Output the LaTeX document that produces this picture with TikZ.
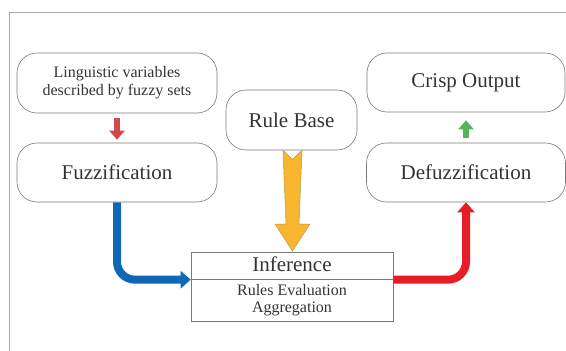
\documentclass[tikz,border=0pt]{standalone}
\usepackage{fontspec}
\setmainfont{Liberation Serif}
\usetikzlibrary{arrows.meta,shapes.multipart,calc}

\definecolor{boxgray}{HTML}{7A7A7A}
\definecolor{framegray}{HTML}{A8A8A8}
\definecolor{txtgray}{HTML}{333333}
\definecolor{flowblue}{HTML}{0F67B8}
\definecolor{flowred}{HTML}{E81C24}
\definecolor{ruleyellow}{HTML}{F8B52E}
\definecolor{ruleedge}{HTML}{B89A48}
\definecolor{downred}{HTML}{D6474B}
\definecolor{upgreen}{HTML}{52B55C}

\begin{document}
\begin{tikzpicture}[x=1pt, y=-1pt,
  main/.style = {draw=boxgray, line width=0.6pt, rectangle, rounded corners=20pt, text=txtgray, align=center, font=\fontsize{21}{23}\selectfont},
  flow/.style = {line width=8pt, rounded corners=18pt, -{Triangle[width=17pt,length=10pt]}},
  small/.style = {line width=6pt, -{Triangle[width=15pt,length=9pt]}}]
\useasboundingbox (0,0) rectangle (566,351);
\draw[framegray, line width=0.8pt] (9,351) |- (566,12);

\node[main, minimum width=200pt, minimum height=60pt, font=\fontsize{16}{18}\selectfont] (ling) at (117,83) {Linguistic variables\\described by fuzzy sets};
\node[main, minimum width=200pt, minimum height=59pt] (fuzz) at (117,172.5) {Fuzzification};
\node[main, minimum width=131pt, minimum height=60pt] (rule) at (291.5,120) {Rule Base};
\node[main, minimum width=198pt, minimum height=59pt] (crisp) at (466,82.5) {Crisp Output};
\node[main, minimum width=199pt, minimum height=59pt] (defuzz) at (466,172.5) {Defuzzification};
\node[draw=boxgray, line width=0.6pt, rectangle split, rectangle split parts=2, text=txtgray, align=center,
  font=\fontsize{16}{17}\selectfont, minimum width=202pt, inner ysep=4.5pt, anchor=north] (inf) at (292,252)
  {{\fontsize{21}{23}\selectfont\rule[-3pt]{0pt}{17pt}Inference}
   \nodepart{two}Rules Evaluation\\Aggregation};

% small arrows
\draw[small, downred] ([yshift=-5pt]ling.south) -- ([yshift=3pt]fuzz.north);
\draw[small, upgreen] ([yshift=5pt]defuzz.north) -- ([yshift=-8pt]crisp.south);

% rule base into inference
\filldraw[fill=ruleyellow, draw=ruleedge, line width=0.5pt]
  ($(rule.south)+(-8.5,0)$) -- ($(rule.south)+(1,9)$) -- ($(rule.south)+(10.5,0)$)
  -- ($(inf.north)+(7,-28)$) -- ($(inf.north)+(18,-28)$) -- ($(inf.north)+(0.5,-1)$)
  -- ($(inf.north)+(-17,-28)$) -- ($(inf.north)+(-6,-28)$) -- cycle;

\draw[flow, flowblue] (fuzz.south) |- (inf.text split west);
\draw[flow, flowred] (inf.text split east) -| (defuzz.south);
\end{tikzpicture}
\end{document}
